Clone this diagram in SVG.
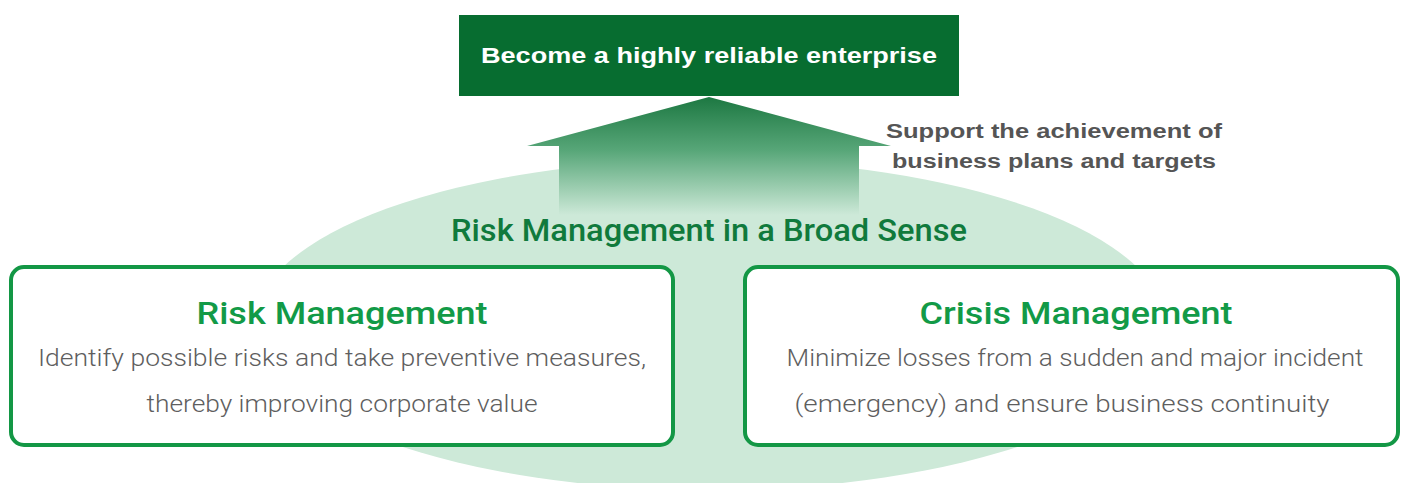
<svg xmlns="http://www.w3.org/2000/svg" width="1401" height="483" viewBox="0 0 1401 483">
  <defs>
    <linearGradient id="arrowFill" gradientUnits="userSpaceOnUse" x1="0" y1="97" x2="0" y2="215">
      <stop offset="0" stop-color="#1d7842"/>
      <stop offset="0.45" stop-color="#57a678"/>
      <stop offset="1" stop-color="#cde9d8"/>
    </linearGradient>
    <style>
      .box { fill: #ffffff; stroke: #139745; stroke-width: 4; }
      .title { font-family: Roboto, "Liberation Sans", sans-serif; font-weight: 500; fill: #129a47; text-anchor: middle; }
      .body { font-family: Roboto, "Liberation Sans", sans-serif; font-weight: 300; fill: #5e5e5e; text-anchor: middle; font-size: 24px; }
      .note { font-family: "Liberation Sans", Arial, sans-serif; font-weight: bold; fill: #555555; text-anchor: middle; font-size: 20px; }
    </style>
  </defs>

  <rect width="1401" height="483" fill="#ffffff"/>

  <!-- broad-sense backdrop -->
  <g id="broad-sense">
    <ellipse cx="710" cy="325" rx="456" ry="165" fill="#cde9d8"/>
  </g>

  <!-- upward arrow toward the goal -->
  <g id="connectors">
    <polygon points="709,97 891,146 859,146 859,216 559,216 559,146 527,146" fill="url(#arrowFill)"/>
  </g>

  <g id="goal">
    <rect x="459" y="15" width="500" height="81" fill="#076d30"/>
    <text x="709" y="63" font-family="'Liberation Sans', Arial, sans-serif" font-weight="bold" font-size="22" fill="#ffffff" text-anchor="middle" textLength="456" lengthAdjust="spacingAndGlyphs">Become a highly reliable enterprise</text>
  </g>

  <g id="support-note">
    <text class="note" x="1054" y="138" textLength="336" lengthAdjust="spacingAndGlyphs">Support the achievement of</text>
    <text class="note" x="1054" y="168" textLength="324" lengthAdjust="spacingAndGlyphs">business plans and targets</text>
  </g>

  <g id="broad-sense-label">
    <text class="title" x="709" y="241" font-size="31" style="fill:#107a3c" textLength="516" lengthAdjust="spacingAndGlyphs">Risk Management in a Broad Sense</text>
  </g>

  <g id="risk-management">
    <rect class="box" x="11" y="267" width="662" height="178" rx="13"/>
    <text class="title" x="342" y="324" font-size="32" textLength="291" lengthAdjust="spacingAndGlyphs">Risk Management</text>
    <text class="body" x="342" y="366" textLength="608" lengthAdjust="spacingAndGlyphs">Identify possible risks and take preventive measures,</text>
    <text class="body" x="342" y="412" textLength="391" lengthAdjust="spacingAndGlyphs">thereby improving corporate value</text>
  </g>

  <g id="crisis-management">
    <rect class="box" x="745" y="267" width="653" height="178" rx="13"/>
    <text class="title" x="1076" y="324" font-size="32" textLength="313" lengthAdjust="spacingAndGlyphs">Crisis Management</text>
    <text class="body" x="1075" y="366" textLength="577" lengthAdjust="spacingAndGlyphs">Minimize losses from a sudden and major incident</text>
    <text class="body" x="1062" y="412" textLength="535" lengthAdjust="spacingAndGlyphs">(emergency) and ensure business continuity</text>
  </g>
</svg>
